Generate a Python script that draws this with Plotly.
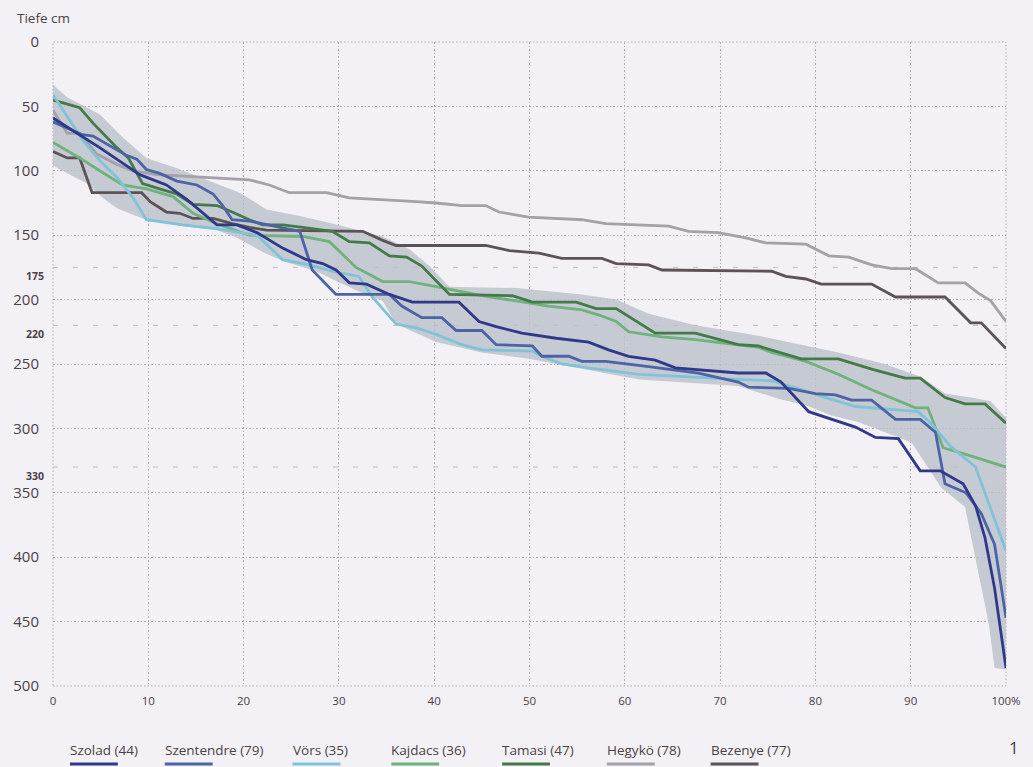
import plotly.graph_objects as go

# Cumulative share of profiles (%) against depth (cm), one list pair per site
szolad_pct = [0, 2.8, 4.9, 7.7, 9.1, 11.9, 14.0, 17.2, 19.3, 21.4, 24.1, 26.6, 28.3, 29.7, 31.1, 32.9,
              35.3, 37.7, 42.6, 44.7, 46.5, 49.2, 51.0, 52.8, 56.2, 58.3, 60.4, 63.2, 65.3, 71.9, 74.8,
              76.4, 79.3, 81.7, 84.2, 86.3, 88.7, 91.0, 93.1, 95.5, 96.8, 97.8, 98.8, 100]
szolad_depth = [59, 72, 82, 96, 103, 111, 122, 142, 142, 148, 160, 169, 172, 177, 187, 188,
                196, 202, 202, 217, 221, 226, 228, 230, 233, 239, 244, 247, 253, 257, 257,
                264, 287, 293, 299, 307, 308, 333, 333, 343, 360, 385, 424, 486]

szentendre_pct = [0, 3.1, 4.2, 6.0, 7.7, 8.8, 9.8, 11.2, 13.0, 15.1, 16.8, 17.8, 18.8, 20.6, 25.9,
                  27.2, 29.7, 35.3, 36.6, 38.7, 40.8, 42.3, 45.0, 46.5, 50.3, 51.3, 54.1, 55.5, 58.0,
                  62.5, 67.7, 71.9, 73.0, 77.2, 80.0, 82.1, 83.8, 85.9, 88.4, 91.0, 92.6, 93.6, 95.8,
                  97.4, 98.8, 100]
szentendre_depth = [62, 72, 73, 81, 88, 91, 99, 102, 108, 111, 118, 127, 138, 139, 147,
                    177, 196, 196, 205, 214, 214, 224, 224, 235, 236, 244, 244, 248, 248,
                    252, 257, 264, 268, 269, 273, 274, 278, 278, 293, 293, 303, 343, 350,
                    366, 390, 447]

voers_pct = [0, 1.5, 3.1, 4.9, 6.7, 8.4, 9.8, 13.6, 17.2, 21.4, 24.1, 26.9, 29.3, 32.1, 33.5, 36.0,
             38.1, 40.2, 42.9, 45.0, 50.3, 51.3, 53.4, 56.2, 61.5, 71.9, 75.4, 78.2, 80.6, 84.2,
             87.3, 90.8, 92.1, 94.2, 96.8, 100]
voers_depth = [41, 58, 76, 92, 105, 121, 138, 142, 145, 150, 169, 173, 178, 182, 198, 219,
               222, 227, 235, 239, 240, 244, 250, 253, 258, 262, 263, 269, 275, 283,
               285, 287, 296, 314, 330, 395]

kajdacs_pct = [0, 2.8, 4.9, 7.3, 9.8, 12.6, 14.7, 17.2, 20.6, 26.2, 29.0, 31.8, 34.6, 37.4, 40.2,
               42.3, 45.0, 48.6, 52.0, 55.5, 57.3, 59.1, 60.4, 63.9, 67.4, 74.0, 75.4, 79.0, 82.4,
               85.9, 90.5, 91.8, 93.4, 95.7, 100]
kajdacs_depth = [78, 90, 100, 111, 114, 120, 133, 141, 150, 151, 155, 175, 186, 186, 190,
                 193, 197, 201, 205, 208, 212, 217, 225, 229, 231, 237, 241, 248, 258,
                 270, 284, 284, 315, 320, 330]

tamasi_pct = [0, 2.8, 4.2, 6.7, 7.9, 9.4, 11.2, 13.0, 14.7, 17.2, 18.5, 20.6, 22.0, 24.1, 26.2,
              29.3, 31.1, 33.2, 35.3, 37.1, 38.7, 41.6, 48.2, 50.3, 54.9, 57.0, 59.1, 63.2, 67.4,
              71.9, 74.0, 78.5, 82.4, 85.9, 89.4, 91.0, 93.6, 95.7, 97.8, 100]
tamasi_depth = [45, 51, 63, 82, 90, 110, 114, 118, 126, 127, 131, 138, 142, 142, 144,
                147, 155, 156, 166, 167, 174, 196, 197, 202, 202, 207, 207, 226, 226,
                235, 236, 246, 246, 254, 261, 261, 276, 281, 281, 296]

hegykoe_pct = [0, 1.5, 2.8, 4.6, 6.7, 8.4, 10.9, 13.3, 20.6, 22.7, 24.8, 28.7, 31.1, 38.1, 40.2,
               42.9, 45.4, 46.8, 49.9, 55.5, 58.0, 64.6, 66.7, 69.8, 72.7, 74.8, 79.0, 81.4, 83.5,
               85.9, 88.0, 90.5, 92.9, 95.7, 97.1, 98.4, 100]
hegykoe_depth = [53, 71, 71, 87, 95, 100, 103, 104, 107, 111, 117, 117, 121, 124, 125,
                 127, 127, 132, 136, 138, 141, 143, 147, 148, 152, 156, 157, 166, 167,
                 173, 176, 176, 187, 187, 195, 201, 217]

bezenye_pct = [0, 1.5, 2.8, 4.1, 9.3, 10.2, 11.9, 13.3, 14.7, 16.8, 18.8, 20.6, 22.4, 32.5, 34.6,
               36.0, 45.4, 47.9, 51.0, 53.4, 57.6, 59.1, 62.5, 63.9, 75.4, 76.9, 79.0, 80.6, 85.9,
               88.4, 93.6, 95.0, 96.3, 97.4, 100]
bezenye_depth = [85, 90, 90, 117, 117, 124, 132, 133, 137, 137, 141, 144, 146, 147, 154,
                 158, 158, 162, 164, 168, 168, 172, 173, 177, 178, 182, 184, 188, 188,
                 198, 198, 208, 218, 218, 238]

# Shaded range of the lowland profiles
band_upper_pct = [0, 1.5, 2.8, 4.9, 7.3, 9.8, 13.0, 16.8, 19.6, 22.4, 25.9, 29.3, 34.6, 37.4, 39.5,
                  41.6, 48.6, 55.5, 59.1, 62.5, 67.4, 74.0, 82.4, 87.3, 91.1, 93.6, 96.3, 98.4, 100]
band_upper_depth = [33, 43, 48, 56, 74, 90, 98, 109, 117, 130, 135, 141, 151, 161, 174,
                    190, 191, 196, 200, 211, 220, 228, 241, 250, 260, 273, 276, 279, 292]
band_lower_pct = [0, 3.6, 5.2, 6.7, 9.4, 13.6, 17.2, 19.3, 22.0, 24.1, 27.6, 30.1, 32.5, 34.6, 36.0,
                  40.2, 45.0, 49.9, 61.5, 71.9, 76.1, 79.0, 81.7, 84.5, 87.3, 90.1, 93.2, 95.7, 98.2,
                  98.8, 100]
band_lower_depth = [96, 110, 121, 129, 137, 143, 146, 152, 163, 170, 178, 187, 195, 201, 219,
                    233, 241, 246, 262, 267, 277, 282, 290, 295, 303, 311, 346, 361, 452,
                    486, 487]

# Marked reference depths (dashed)
reference_depths = [175, 220, 330]

site_names = ["Szolad", "Szentendre", "Vörs", "Kajdacs", "Tamasi", "Hegykö", "Bezenye"]
site_counts = [44, 79, 35, 36, 47, 78, 77]
site_colors = ["#2f3889", "#4c64a6", "#80c3d9", "#70b27e", "#437a48", "#a3a1a9", "#5d5357"]

x_ticks = list(range(0, 101, 10))
x_tick_text = [str(v) for v in x_ticks[:-1]] + ["100%"]
y_ticks = list(range(0, 501, 50))

series = [
    (szolad_pct, szolad_depth),
    (szentendre_pct, szentendre_depth),
    (voers_pct, voers_depth),
    (kajdacs_pct, kajdacs_depth),
    (tamasi_pct, tamasi_depth),
    (hegykoe_pct, hegykoe_depth),
    (bezenye_pct, bezenye_depth),
]

BG = "#f3f1f5"
TEXT = "#4b4146"
GRID = "#b3aeb4"
GRID_DASH = "1.5px,2px"
FONT = "Open Sans"

W, H = 1033, 767
ML, MR, MT, MB = 53, 25, 42, 81
PW, PH = W - ML - MR, H - MT - MB


def px_x(px):
    return (px - ML) / PW


def px_y(py):
    return (H - MB - py) / PH


fig = go.Figure()

# envelope band
fig.add_trace(go.Scatter(
    x=band_upper_pct + band_lower_pct[::-1],
    y=band_upper_depth + band_lower_depth[::-1],
    fill="toself", fillcolor="rgba(188,193,204,0.82)",
    line=dict(width=0), mode="lines", hoverinfo="skip", showlegend=False,
))

# reference depths
for d in reference_depths:
    fig.add_trace(go.Scatter(
        x=[0, 100], y=[d, d], mode="lines",
        line=dict(color="#c2bdc2", width=1, dash="5px,15px"),
        hoverinfo="skip", showlegend=False,
    ))

# draw order: the upland sites below, lowland sites on top
order = [5, 6, 3, 4, 2, 1, 0]
for i in order:
    xs, ys = series[i]
    fig.add_trace(go.Scatter(
        x=xs, y=ys, mode="lines", name=f"{site_names[i]} ({site_counts[i]})",
        line=dict(color=site_colors[i], width=2.8),
        showlegend=False,
    ))

annotations = []
shapes = []

# dotted frame round the plot area
shapes.append(dict(
    type="rect", xref="paper", yref="paper", x0=0, x1=1, y0=0, y1=1,
    line=dict(color=GRID, width=1, dash=GRID_DASH), layer="below",
))

# axis title
annotations.append(dict(
    text="Tiefe cm", xref="paper", yref="paper", x=px_x(15), y=px_y(18),
    xanchor="left", yanchor="middle", showarrow=False,
    font=dict(family=FONT, size=13.5, color=TEXT),
))

# reference depth labels
for d in reference_depths:
    annotations.append(dict(
        text=f"<b>{d}</b>", xref="paper", yref="y", x=px_x(46), y=d,
        xanchor="right", yanchor="top", showarrow=False,
        font=dict(family=FONT, size=10.5, color=TEXT),
    ))

# legend row: label with coloured underline
legend_left = [70, 165, 293, 392, 503, 608, 712]
for name, cnt, col, lx in zip(site_names, site_counts, site_colors, legend_left):
    annotations.append(dict(
        text=f"{name} ({cnt})", xref="paper", yref="paper", x=px_x(lx - 2), y=px_y(750),
        xanchor="left", yanchor="middle", showarrow=False,
        font=dict(family=FONT, size=13.5, color=TEXT),
    ))
    shapes.append(dict(
        type="line", xref="paper", yref="paper",
        x0=px_x(lx), x1=px_x(lx + 48), y0=px_y(764), y1=px_y(764),
        line=dict(color=col, width=3),
    ))

annotations.append(dict(
    text="1", xref="paper", yref="paper", x=px_x(1016), y=px_y(747),
    xanchor="center", yanchor="middle", showarrow=False,
    font=dict(family=FONT, size=17, color=TEXT),
))

fig.update_layout(
    width=W, height=H,
    margin=dict(l=ML, r=MR, t=MT, b=MB),
    paper_bgcolor=BG, plot_bgcolor=BG,
    showlegend=False,
    annotations=annotations,
    shapes=shapes,
    font=dict(family=FONT, color=TEXT),
)

fig.update_xaxes(
    range=[0, 100], tickvals=x_ticks, ticktext=x_tick_text,
    showgrid=True, gridcolor=GRID, gridwidth=1, griddash=GRID_DASH,
    zeroline=False, showline=False, ticks="",
    ticklabelstandoff=6,
    tickfont=dict(family=FONT, size=11.5, color=TEXT),
)
fig.update_yaxes(
    range=[500, 0], tickvals=y_ticks,
    showgrid=True, gridcolor=GRID, gridwidth=1, griddash=GRID_DASH,
    zeroline=False, showline=False, ticks="",
    ticklabelstandoff=13,
    tickfont=dict(family=FONT, size=15, color=TEXT),
)

fig.write_html("out.html")
